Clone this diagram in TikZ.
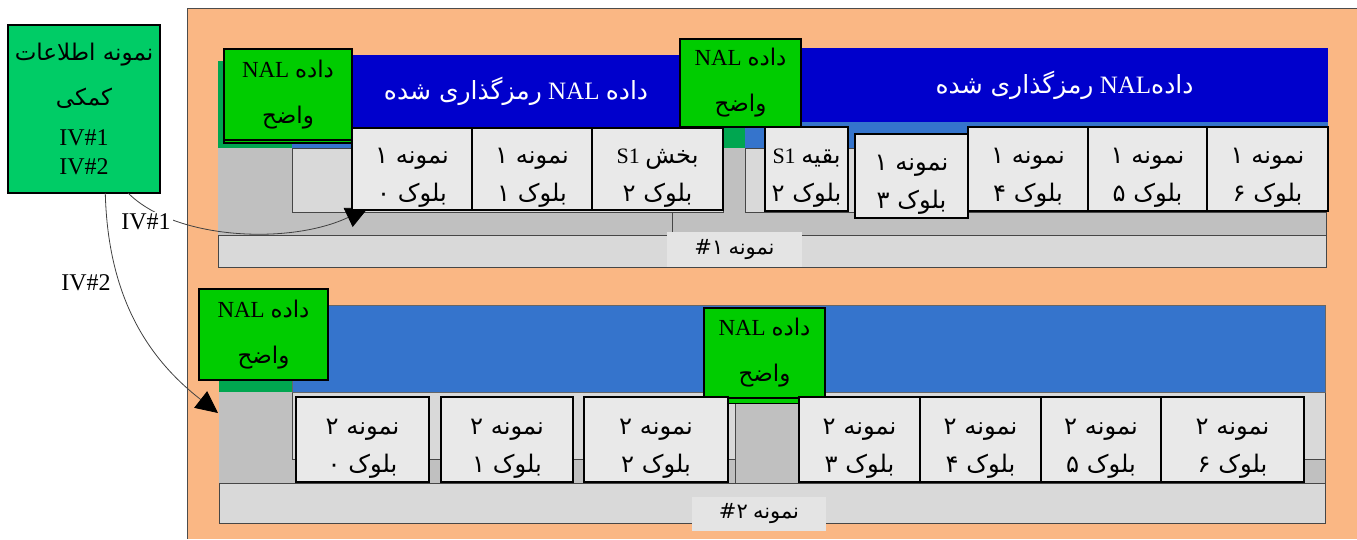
\documentclass[tikz,border=0pt]{standalone}
\usepackage{fontspec}
\setmainfont{Liberation Serif}
\newfontfamily\fa[Script=Arabic]{DejaVu Sans}
\newfontfamily\fab[Script=Arabic,Scale=1.1]{DejaVu Sans}
\TeXXeTstate=1
\usetikzlibrary{arrows.meta,calc}
\definecolor{peach}{RGB}{250,183,132}
\definecolor{auxgreen}{RGB}{0,204,102}
\definecolor{nalgreen}{RGB}{0,204,0}
\definecolor{dkgreen}{RGB}{0,166,80}
\definecolor{dkblue}{RGB}{0,0,204}
\definecolor{midblue}{RGB}{53,116,204}
\definecolor{midgray}{RGB}{192,192,192}
\definecolor{lightgray}{RGB}{217,217,217}
\definecolor{blockgray}{RGB}{233,233,233}
\definecolor{labelgray}{RGB}{228,228,228}
\definecolor{edge}{RGB}{70,70,70}
\newcommand\fatxt[1]{{\fa\beginR #1\endR}}
\newcommand\fablk[1]{{\fab\beginR #1\endR}}
\newcommand\topstrut{\rule{0pt}{33pt}}
\newcommand\mybox[7]{\node[#1, minimum width={(#5-#3)*1pt}, minimum height={(#6-#4)*1pt}] (#2) at ({(#3+#5)/2},{(#4+#6)/2}) {#7};}
\tikzset{
  base/.style={inner sep=0pt, outer sep=0pt, align=center},
  auxbox/.style={base, draw=black, line width=1.8pt, fill=auxgreen, font=\fontsize{24}{42}\selectfont},
  clearbox/.style={base, draw=black, line width=1.8pt, fill=nalgreen, font=\fontsize{23}{46}\selectfont},
  blk/.style={base, draw=black, line width=1.8pt, fill=blockgray, font=\fontsize{22}{38}\selectfont},
  band/.style={base, font=\fontsize{25}{28}\selectfont, text=white},
  sample/.style={base, draw=edge, line width=0.8pt, fill=lightgray},
  lbox/.style={base, fill=labelgray, font=\fontsize{21}{24}\selectfont},
  thinl/.style={draw=edge, line width=0.7pt},
  ivline/.style={draw=black!75, line width=0.8pt, -{Triangle[length=22pt,width=21pt,black]}},
  ivlbl/.style={base, fill=white, inner sep=2pt, font=\fontsize{24}{28}\selectfont}
}
\begin{document}
\begin{tikzpicture}[x=1pt,y=-1pt]
\useasboundingbox (0,0) rectangle (1357,539);
% orange frame
\fill[peach] (187,8) rectangle (1357,539);
\draw[line width=0.8pt, black!70] (1357,8) -- (187,8) -- (187,539);

% auxiliary info box
\mybox{auxbox}{aux}{8}{25}{160}{193}{{\fontsize{23}{42}\selectfont\fatxt{نمونه اطلاعات}}\\[3pt]{\fontsize{23}{42}\selectfont\fatxt{کمکی}}\\[-2pt]IV\#1\\[-13pt]IV\#2}

% ---------- row 1 background ----------
\mybox{sample}{s1}{218}{61}{1326}{267}{}
\fill[midgray] (218,148) rectangle (1326,235);
\draw[thinl] (218,235) -- (1326,235);
\draw[thinl, fill=lightgray] (292,148) rectangle (723,212);
\draw[thinl, fill=lightgray] (745,148) rectangle (1326,212);
\draw[thinl] (672,212) -- (672,235);
\fill[dkgreen] (218,61) rectangle (292,148);
\fill[dkgreen] (723,127) rectangle (745,148);
\fill[midblue] (292,128) rectangle (352,148);
\fill[midblue] (745,122) rectangle (1328,148);
\mybox{band, fill=dkblue}{e1}{352}{55}{680}{128}{\fatxt{رمزگذاری شده} NAL \fatxt{داده}}
\mybox{band, fill=dkblue}{e2}{801}{48}{1328}{122}{\fatxt{رمزگذاری شده} NAL{\fa داده}}
\mybox{lbox}{l1}{667}{232}{802}{267}{{\fa\#۱} {\fa نمونه}}

% ---------- row 2 background ----------
\mybox{sample}{s2}{219}{305}{1325}{523}{}
\fill[midgray] (219,392) rectangle (1325,483);
\draw[thinl] (219,483) -- (1325,483);
\draw[thinl, fill=lightgray] (292,392) rectangle (1325,459);
\draw[thinl, fill=midgray] (735,403) rectangle (800,483);
\fill[dkgreen] (219,380) rectangle (292,392);
\mybox{base, fill=midblue, draw=black!60, line width=0.7pt}{e3}{292}{305}{1325}{392}{}
\mybox{lbox}{l2}{692}{497}{826}{531}{{\fa\#۲} {\fa نمونه}}

% ---------- IV connectors ----------
\coordinate (t1) at (368,208);
\coordinate (t2) at ($(s2.north west)+(-1,108)$);
\draw[ivline] ($(aux.south west)!0.79!(aux.south east)$) .. controls (175,240) and (290,245) .. (t1);
\draw[ivline] ($(aux.south west)!0.64!(aux.south east)$) .. controls (108,300) and (150,360) .. (t2);
\node[ivlbl] (iv1) at (146,222) {IV\#1};
\node[ivlbl] (iv2) at (86,283) {IV\#2};

% ---------- row 1 clear NAL boxes ----------
\draw[black, line width=1.2pt, fill=nalgreen] (224,53) rectangle (352,143);
\mybox{clearbox}{c1}{224}{49}{352}{140}{NAL \fatxt{داده}\\\fatxt{واضح}}
\mybox{clearbox}{c2}{680}{39}{801}{127}{NAL \fatxt{داده}\\\fatxt{واضح}}

% ---------- row 1 blocks ----------
\mybox{blk}{a0}{352}{128}{472}{210}{\topstrut\fablk{نمونه ۱}\\\fablk{بلوک ۰}}
\mybox{blk}{a1}{472}{128}{592}{210}{\topstrut\fablk{نمونه ۱}\\\fablk{بلوک ۱}}
\mybox{blk}{a2}{592}{128}{723}{210}{\topstrut S1 \fablk{بخش}\\\fablk{بلوک ۲}}
\mybox{blk}{a2r}{765}{127}{848}{211}{\topstrut S1 \fablk{بقیه}\\\fablk{بلوک ۲}}
\mybox{blk}{a3}{855}{134}{968}{218}{\topstrut\fablk{نمونه ۱}\\\fablk{بلوک ۳}}
\mybox{blk}{a4}{968}{127}{1088}{211}{\topstrut\fablk{نمونه ۱}\\\fablk{بلوک ۴}}
\mybox{blk}{a5}{1088}{127}{1207}{211}{\topstrut\fablk{نمونه ۱}\\\fablk{بلوک ۵}}
\mybox{blk}{a6}{1207}{127}{1328}{211}{\topstrut\fablk{نمونه ۱}\\\fablk{بلوک ۶}}

% ---------- row 2 clear NAL boxes ----------
\mybox{clearbox}{c3}{199}{289}{328}{380}{NAL \fatxt{داده}\\\fatxt{واضح}}
\draw[black, line width=1pt, fill=nalgreen] (728,397) rectangle (800,403);
\mybox{clearbox}{c4}{704}{308}{825}{398}{NAL \fatxt{داده}\\\fatxt{واضح}}

% ---------- row 2 blocks ----------
\mybox{blk}{b0}{296}{397}{429}{482}{\topstrut\fablk{نمونه ۲}\\\fablk{بلوک ۰}}
\mybox{blk}{b1}{441}{397}{573}{482}{\topstrut\fablk{نمونه ۲}\\\fablk{بلوک ۱}}
\mybox{blk}{b2}{584}{397}{728}{482}{\topstrut\fablk{نمونه ۲}\\\fablk{بلوک ۲}}
\mybox{blk}{b3}{799}{397}{920}{482}{\topstrut\fablk{نمونه ۲}\\\fablk{بلوک ۳}}
\mybox{blk}{b4}{920}{397}{1041}{482}{\topstrut\fablk{نمونه ۲}\\\fablk{بلوک ۴}}
\mybox{blk}{b5}{1041}{397}{1161}{482}{\topstrut\fablk{نمونه ۲}\\\fablk{بلوک ۵}}
\mybox{blk}{b6}{1161}{397}{1304}{482}{\topstrut\fablk{نمونه ۲}\\\fablk{بلوک ۶}}
\end{tikzpicture}
\end{document}
